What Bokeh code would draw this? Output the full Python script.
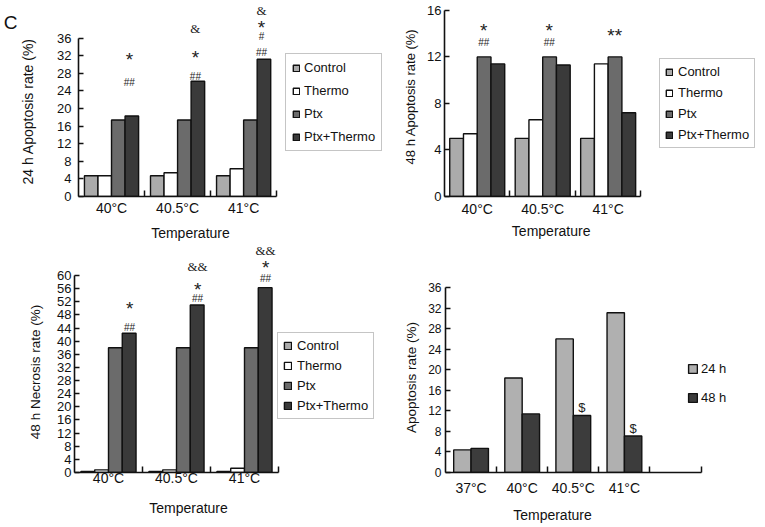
import json
import numpy as np
from bokeh.plotting import figure
from bokeh.models import (ColumnDataSource, FixedTicker, Legend, LegendItem,
                          LabelSet, LinearAxis, Range1d, CustomJSTickFormatter)
from bokeh.layouts import column, row
from bokeh.embed import file_html
from bokeh.resources import INLINE

# ---------------- data ----------------
temps = ["40\u00b0C", "40.5\u00b0C", "41\u00b0C"]
temps_d = ["37\u00b0C", "40\u00b0C", "40.5\u00b0C", "41\u00b0C", ""]
groups = ["Control", "Thermo", "Ptx", "Ptx+Thermo"]
hours = ["24 h", "48 h"]

apop24_control = [4.7, 4.7, 4.7]
apop24_thermo = [4.7, 5.4, 6.3]
apop24_ptx = [17.4, 17.4, 17.4]
apop24_ptx_thermo = [18.3, 26.2, 31.2]

apop48_control = [5.0, 5.0, 5.0]
apop48_thermo = [5.4, 6.6, 11.4]
apop48_ptx = [12.0, 12.0, 12.0]
apop48_ptx_thermo = [11.4, 11.3, 7.2]

necro48_control = [0.3, 0.3, 0.3]
necro48_thermo = [0.8, 0.8, 1.3]
necro48_ptx = [38.0, 38.0, 38.0]
necro48_ptx_thermo = [42.4, 51.0, 56.3]

apop_24h = [4.4, 18.4, 26.0, 31.1]
apop_48h = [4.7, 11.4, 11.1, 7.1]

# significance marks: category index, text, height (% units)
marks_a_cat = [0, 0, 1, 1, 1, 2, 2, 2, 2]
marks_a_text = ["*", "##", "&", "*", "##", "&", "*", "#", "##"]
marks_a_level = [32.2, 25.9, 38.2, 32.8, 27.2, 42.3, 39.6, 36.4, 32.8]

marks_b_cat = [0, 0, 1, 1, 2]
marks_b_text = ["*", "##", "*", "##", "**"]
marks_b_level = [14.7, 13.2, 14.7, 13.2, 14.3]

marks_c_cat = [0, 0, 1, 1, 1, 2, 2, 2]
marks_c_text = ["*", "##", "&&", "*", "##", "&&", "*", "##"]
marks_c_level = [51.5, 44.2, 62.7, 57.3, 53.0, 67.6, 64.0, 59.1]

marks_d_cat = [2, 3]
marks_d_text = ["$", "$"]
marks_d_level = [12.6, 8.6]

# ---------------- styles ----------------
FONT = "Liberation Sans"
INK = "#111111"
COLORS4 = ["#ababab", "#ffffff", "#6b6b6b", "#3a3a3a"]
COLORS2 = ["#b0b0b0", "#3c3c3c"]
MARK_SIZE = {"*": "19px", "#": "10px", "&": "13px", "$": "13px"}
MARK_FONT = {"*": FONT, "#": FONT, "&": "Liberation Serif", "$": FONT}
MARK_DY = {"*": -5, "#": 0, "&": 0, "$": 0}


class Panel:
    def __init__(self, width, height, fig_left, fig_top, frame_left, frame_bottom,
                 xppu, yppu, labels, ncat, ymax, ystep, xstand, ystand, ysize="13px"):
        self.frame_left, self.frame_bottom = frame_left, frame_bottom
        self.xppu, self.yppu = xppu, yppu
        frame_w = fig_left + width - frame_left
        frame_h = frame_bottom - fig_top
        p = figure(width=width, height=height, output_backend="svg",
                   toolbar_location=None,
                   x_range=Range1d(-0.5, -0.5 + frame_w / xppu),
                   y_range=Range1d(0, frame_h / yppu),
                   min_border_left=frame_left - fig_left, min_border_right=0,
                   min_border_top=0, min_border_bottom=height - frame_h)
        p.outline_line_color = None
        p.grid.visible = False

        xa = p.xaxis[0]
        xa.ticker = FixedTicker(ticks=list(range(len(labels))),
                                minor_ticks=[i + 0.5 for i in range(ncat)])
        xa.bounds = (-0.5, ncat - 0.5)
        xa.major_label_overrides = {i: t for i, t in enumerate(labels)}
        xa.major_tick_line_color = None
        xa.major_tick_in = 0
        xa.major_tick_out = 0
        xa.minor_tick_in = 6
        xa.minor_tick_out = 0
        xa.minor_tick_line_color = INK
        xa.minor_tick_line_width = 1.5
        xa.axis_line_color = INK
        xa.axis_line_width = 1.6
        xa.major_label_text_font = FONT
        xa.major_label_text_font_size = "14px"
        xa.major_label_text_color = INK
        xa.major_label_standoff = xstand

        ya = p.yaxis[0]
        ya.ticker = FixedTicker(ticks=list(range(0, ymax + 1, ystep)))
        ya.bounds = (0, ymax)
        ya.major_tick_in = 5
        ya.major_tick_out = 0
        ya.major_tick_line_color = INK
        ya.major_tick_line_width = 1.4
        ya.minor_tick_line_color = None
        ya.axis_line_color = INK
        ya.axis_line_width = 1.6
        ya.major_label_text_font = FONT
        ya.major_label_text_font_size = ysize
        ya.major_label_text_color = INK
        ya.major_label_standoff = ystand
        self.p = p

    def to_x(self, px):
        return -0.5 + (px - self.frame_left) / self.xppu

    def to_y(self, py):
        return (self.frame_bottom - py) / self.yppu

    def title(self, side, center_px, text, standoff, size="14px", orient="parallel"):
        c = self.to_x(center_px) if side == "below" else self.to_y(center_px)
        ax = LinearAxis(ticker=FixedTicker(ticks=[c]),
                        formatter=CustomJSTickFormatter(code="return %s;" % json.dumps(text)),
                        axis_line_color=None,
                        major_tick_line_color=None, minor_tick_line_color=None,
                        major_tick_in=0, major_tick_out=0,
                        minor_tick_in=0, minor_tick_out=0,
                        major_label_standoff=standoff,
                        major_label_orientation=orient,
                        major_label_text_font=FONT,
                        major_label_text_font_size=size,
                        major_label_text_color=INK)
        self.p.add_layout(ax, side)

    def bars(self, series, colors, w):
        n = len(series)
        rs = []
        for k, (vals, col) in enumerate(zip(series, colors)):
            x = np.arange(len(vals)) + (k - (n - 1) / 2) * w
            src = ColumnDataSource(dict(x=x, top=vals))
            rs.append(self.p.vbar(x="x", top="top", bottom=0, width=w, source=src,
                                  fill_color=col, line_color=INK, line_width=1.4))
        return rs

    def marks(self, cats, texts, levels, dx):
        src = ColumnDataSource(dict(
            x=np.array(cats, dtype=float) + dx, y=levels, text=texts,
            size=[MARK_SIZE[t[0]] for t in texts],
            font=[MARK_FONT[t[0]] for t in texts],
            dy=[MARK_DY[t[0]] for t in texts]))
        self.p.add_layout(LabelSet(x="x", y="y", text="text", source=src,
                                   y_offset="dy", text_align="center",
                                   text_baseline="middle", text_font="font",
                                   text_font_size="size", text_color="#222222"))

    def legend(self, names, renderers, loc, padding, spacing, glyph, standoff,
               border=True):
        leg = Legend(items=[LegendItem(label=n, renderers=[r])
                            for n, r in zip(names, renderers)],
                     location=loc, padding=padding, spacing=spacing, margin=0,
                     glyph_width=glyph, glyph_height=glyph, label_height=15,
                     label_standoff=standoff, label_text_font=FONT,
                     label_text_font_size="13px", label_text_color=INK,
                     label_text_baseline="middle",
                     border_line_color="#8c8c8c" if border else None,
                     border_line_width=1,
                     background_fill_color="white",
                     background_fill_alpha=1.0 if border else 0.0)
        self.p.add_layout(leg)


# ---------------- panel A : 24 h apoptosis ----------------
A = Panel(400, 243, 0, 0, 75, 198, 200 / 3, 160 / 36, temps, 3, 36, 4, 3, 7)
ra = A.bars([apop24_control, apop24_thermo, apop24_ptx, apop24_ptx_thermo], COLORS4, 0.205)
A.marks(marks_a_cat, marks_a_text, marks_a_level, 0.27)
A.legend(groups, ra, (207, 45), 6, 8, 8, 4)
A.title("left", 112, "24 h Apoptosis rate (%)", 18)
A.title("left", 22, "C", 0, size="19px", orient="horizontal")
A.title("below", 188, "Temperature", 6)

# ---------------- panel B : 48 h apoptosis ----------------
B = Panel(364, 243, 400, 0, 443, 198, 197 / 3, 188 / 16, temps, 3, 16, 4, 4, 3)
rb = B.bars([apop48_control, apop48_thermo, apop48_ptx, apop48_ptx_thermo], COLORS4, 0.21)
B.marks(marks_b_cat, marks_b_text, marks_b_level, 0.1)
B.legend(groups, rb, (215, 48), 5, 6, 8, 5)
B.title("left", 97, "48 h Apoptosis rate (%)", 6, size="13px")
B.title("below", 550, "Temperature", 3)

# ---------------- panel C : 48 h necrosis ----------------
C = Panel(400, 283, 0, 243, 74, 472, 68, 197 / 60, temps, 3, 60, 4, -3, 3)
rc = C.bars([necro48_control, necro48_thermo, necro48_ptx, necro48_ptx_thermo], COLORS4, 0.2025)
C.marks(marks_c_cat, marks_c_text, marks_c_level, 0.31)
C.legend(groups, rc, (203, 53), 5, 5, 9, 5)
C.title("left", 371.5, "48 h Necrosis rate (%)", 12, size="13.5px")
C.title("below", 188, "Temperature", 11)

# ---------------- panel D : apoptosis 24 h vs 48 h ----------------
D = Panel(364, 283, 400, 243, 442, 472, 258 / 5, 185 / 36, temps_d[:4], 5, 36, 4, 7, 4,
          ysize="12px")
rd = D.bars([apop_24h, apop_48h], COLORS2, 0.34)
D.marks(marks_d_cat, marks_d_text, marks_d_level, 0.17)
D.legend(hours, rd, (242, 67), 0, 14, 11, 3, border=False)
D.title("left", 377, "Apoptosis rate (%)", 7, size="13.5px")
D.title("below", 550, "Temperature", 8)

layout = column(row(A.p, B.p), row(C.p, D.p))
open("out.html", "w").write(file_html(layout, INLINE))
